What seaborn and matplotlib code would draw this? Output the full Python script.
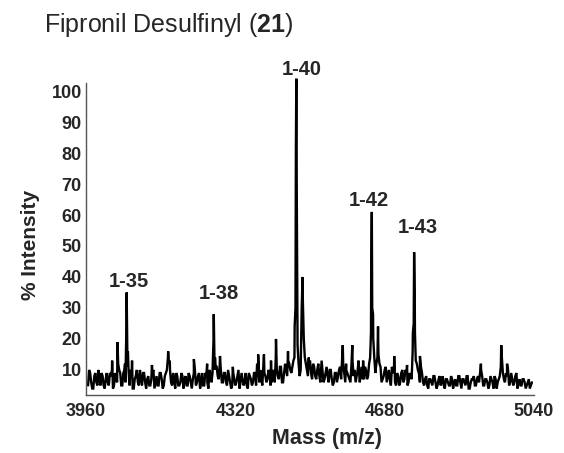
import matplotlib
matplotlib.use("Agg")
import matplotlib.pyplot as plt
import numpy as np
import pandas as pd
import seaborn as sns

# Baseline noise, read on a 5 Da grid from 3965 to 5035
grid_start = 3965
grid_step = 5
baseline = [
    5, 9, 4, 8, 6, 10, 5, 8, 4, 9,       # 3965-4010
    5, 8, 4, 9, 6, 10, 5, 9, 6, 11,      # 4015-4060
    5, 9, 4, 8, 6, 10, 5, 9, 4, 8,       # 4065-4110
    5, 9, 4, 8, 5, 9, 4, 8, 10, 12,      # 4115-4160
    6, 9, 4, 8, 5, 9, 4, 8, 5, 8,        # 4165-4210
    4, 9, 5, 8, 4, 9, 5, 8, 4, 9,        # 4215-4260
    9, 10, 11, 7, 10, 6, 9, 5, 8, 4,     # 4265-4310
    9, 5, 8, 4, 9, 5, 9, 4, 8, 5,        # 4315-4360
    9, 5, 8, 10, 5, 9, 6, 10, 5, 9,      # 4365-4410
    6, 10, 7, 11, 6, 12, 8, 12, 9, 13,   # 4415-4460
    30, 18, 8, 30, 20, 12, 8, 13, 7, 11, # 4465-4510
    7, 12, 6, 10, 7, 11, 6, 10, 5, 9,    # 4515-4560
    6, 10, 7, 12, 6, 9, 7, 12, 8, 6,     # 4565-4610
    10, 6, 11, 7, 10, 8, 14, 30, 14, 12, # 4615-4660
    15, 11, 7, 10, 6, 10, 5, 9, 6, 9,    # 4665-4710
    5, 9, 6, 10, 5, 9, 7, 25, 13, 10,    # 4715-4760
    6, 9, 5, 8, 4, 7, 5, 8, 4, 7,        # 4765-4810
    5, 8, 4, 7, 5, 8, 4, 7, 5, 8,        # 4815-4860
    4, 7, 5, 8, 4, 7, 8, 5, 8, 9,        # 4865-4910
    8, 5, 7, 4, 8, 6, 8, 4, 7, 11,       # 4915-4960
    9, 6, 8, 5, 9, 5, 8, 4, 7, 5,        # 4965-5010
    7, 4, 6, 4, 6,                       # 5015-5035
]

# Noise between the grid points above (3967.5 to 5032.5)
half_start = 3967.5
baseline_half = [
    10, 6, 4, 9, 5, 7, 9, 5, 7, 6,       # 3967.5-4012.5
    9, 10, 5, 7, 12, 9, 5, 10, 25, 10,   # 4017.5-4062.5
    10, 4, 7, 10, 5, 7, 9, 6, 7, 5,      # 4067.5-4112.5
    7, 10, 6, 5, 9, 7, 5, 9, 14, 10,     # 4117.5-4162.5
    5, 7, 9, 5, 6, 8, 7, 5, 9, 6,        # 4167.5-4212.5
    7, 10, 6, 9, 6, 5, 9, 6, 10, 6,      # 4217.5-4262.5
    20, 11, 8, 12, 6, 9, 6, 10, 6, 5,    # 4267.5-4312.5
    7, 6, 10, 6, 7, 6, 5, 9, 7, 6,       # 4317.5-4362.5
    9, 12, 6, 7, 11, 8, 7, 9, 6, 10,     # 4367.5-4412.5
    14, 8, 11, 6, 9, 10, 13, 10, 11, 14, # 4417.5-4462.5
    88, 12, 10, 34, 14, 10, 11, 9, 12, 8, # 4467.5-4512.5
    10, 8, 12, 6, 9, 8, 10, 7, 6, 9,     # 4517.5-4562.5
    8, 11, 14, 9, 10, 8, 6, 13, 10, 8,   # 4567.5-4612.5
    11, 9, 7, 11, 7, 12, 40, 20, 9, 14,  # 4617.5-4662.5
    12, 6, 8, 11, 8, 7, 11, 10, 5, 8,    # 4667.5-4712.5
    6, 10, 7, 9, 6, 8, 16, 35, 12, 9,    # 4717.5-4762.5
    11, 6, 7, 5, 7, 6, 8, 6, 5, 8,       # 4767.5-4812.5
    6, 5, 7, 6, 5, 7, 6, 5, 8, 6,        # 4817.5-4862.5
    7, 6, 8, 4, 6, 7, 5, 7, 6, 10,       # 4867.5-4912.5
    5, 7, 6, 5, 7, 4, 7, 6, 8, 14,       # 4917.5-4962.5
    7, 9, 10, 6, 7, 6, 9, 6, 5, 7,       # 4967.5-5012.5
    6, 5, 7, 5,                          # 5017.5-5032.5
]

# Peak points (tops and shoulders)
peak_mass = [4023, 4036, 4054, 4058, 4061, 4071, 4119, 4158, 4162, 4220,
             4252, 4266, 4268, 4271, 4283, 4314, 4375, 4389, 4406, 4418,
             4447, 4463, 4466, 4467, 4468, 4479, 4482, 4497, 4528, 4579,
             4587, 4602, 4617, 4628, 4647, 4649, 4652, 4664, 4703, 4734,
             4748, 4751, 4753, 4765, 4912, 4961, 4975]
peak_int = [13, 19, 12, 35, 16, 13, 11.6, 16, 13, 13.5,
            12, 14, 28, 14, 14.5, 11, 15, 15, 13, 20,
            16, 24, 82, 104, 70, 22, 40, 14, 13, 18,
            12, 18, 13, 13, 22, 61, 28, 24, 14.5, 11.6,
            22, 48, 22, 14.5, 12, 18, 12]

# Peak annotations
label_text = ["1-35", "1-38", "1-40", "1-42", "1-43"]
label_mass = [4064, 4281, 4481, 4642, 4760]
label_int = [38.7, 34.8, 107, 64.7, 56]

grid_mass = grid_start + grid_step * np.arange(len(baseline))
half_mass = half_start + grid_step * np.arange(len(baseline_half))
df = pd.DataFrame({
    "mass": np.concatenate([grid_mass, half_mass, peak_mass]),
    "intensity": np.concatenate([baseline, baseline_half, peak_int]),
})

sns.set_style("white")
plt.rcParams["font.family"] = ["Liberation Sans", "DejaVu Sans"]
plt.rcParams["mathtext.fontset"] = "custom"
plt.rcParams["mathtext.rm"] = "Liberation Sans"
plt.rcParams["mathtext.bf"] = "Liberation Sans:bold"

fig = plt.figure(figsize=(5.64, 4.53), dpi=100)
ax = fig.add_axes([0.1525, 0.128, 0.7943, 0.6887])

sns.lineplot(data=df, x="mass", y="intensity", ax=ax, sort=True,
             estimator=None, color="black", linewidth=1.7)
for line in ax.get_lines():
    line.set_clip_on(False)
    line.set_solid_joinstyle("miter")

ax.set_xlim(3960, 5040)
ax.set_ylim(1.9, 102.6)
ax.set_xticks([3960, 4320, 4680, 5040])
ax.set_xticks([4140, 4500, 4860], minor=True)
ax.set_yticks(range(10, 101, 10))
ax.set_yticks(range(5, 101, 10), minor=True)
ax.tick_params(axis="both", which="both", direction="out", length=2,
               color="#999999", width=0.8)
ax.tick_params(axis="y", pad=1)
ax.tick_params(axis="x", pad=4)
for lab in ax.get_xticklabels() + ax.get_yticklabels():
    lab.set_fontweight("bold")
    lab.set_fontsize(13)

for side in ["top", "right"]:
    ax.spines[side].set_visible(False)
for side in ["left", "bottom"]:
    ax.spines[side].set_color("#555555")
    ax.spines[side].set_linewidth(1.0)

ax.set_xlabel("Mass (m/z)", fontsize=15.5, fontweight="bold")
ax.set_ylabel("% Intensity", fontsize=15, fontweight="bold")
ax.xaxis.set_label_coords((327 - 86) / 448, -(438 - 395) / 312)
ax.yaxis.set_label_coords(-(86 - 30) / 448, 0.48)
ax.xaxis.label.set_va("center")
ax.yaxis.label.set_va("center")

for t, m, v in zip(label_text, label_mass, label_int):
    ax.text(m, v, t, ha="center", va="center", fontsize=14.5,
            fontweight="bold", clip_on=False)

fig.text(44 / 564, 1 - 32 / 453, r"Fipronil Desulfinyl ($\mathbf{21}$)",
         fontsize=18, ha="left", va="baseline")

fig.savefig("out.png", dpi=100)
